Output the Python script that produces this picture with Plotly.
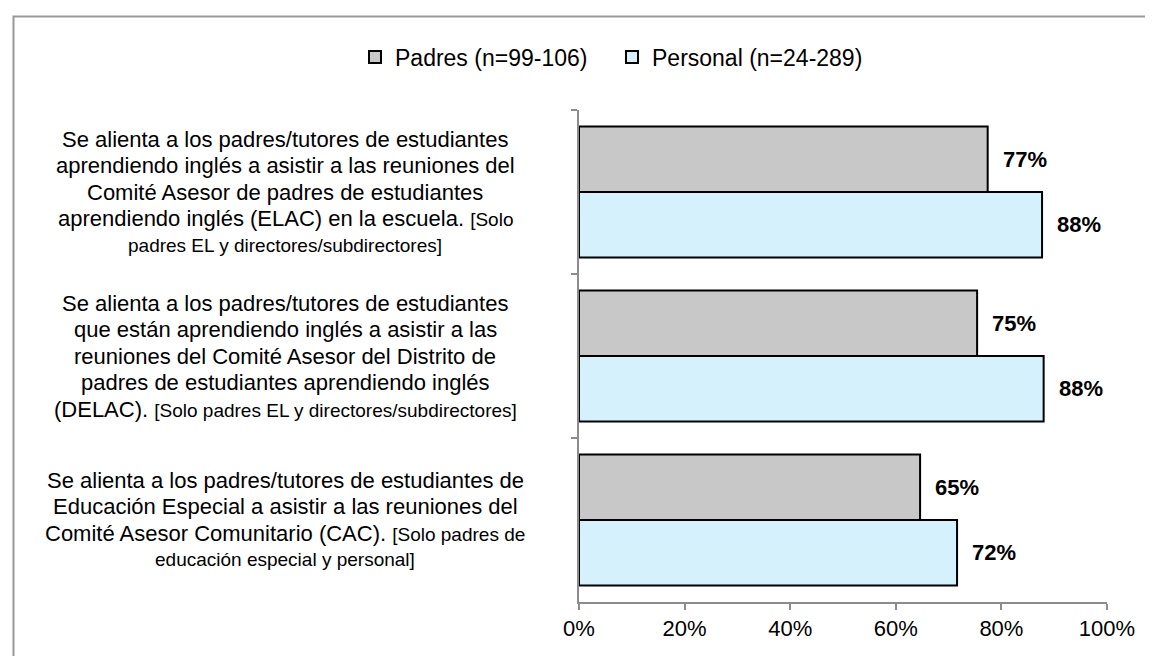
import plotly.graph_objects as go

categories = ["ELAC", "DELAC", "CAC"]
label_lines = [
    ["Se alienta a los padres/tutores de estudiantes",
     "aprendiendo inglés a asistir a las reuniones del",
     "Comité Asesor de padres de estudiantes",
     "aprendiendo inglés (ELAC) en la escuela. |[Solo",
     "|padres EL y directores/subdirectores]"],
    ["Se alienta a los padres/tutores de estudiantes",
     "que están aprendiendo inglés a asistir a las",
     "reuniones del Comité Asesor del Distrito de",
     "padres de estudiantes aprendiendo inglés",
     "(DELAC). |[Solo padres EL y directores/subdirectores]"],
    ["Se alienta a los padres/tutores de estudiantes de",
     "Educación Especial a asistir a las reuniones del",
     "Comité Asesor Comunitario (CAC). |[Solo padres de",
     "|educación especial y personal]"],
]
padres = [77.4, 75.4, 64.6]
personal = [87.7, 88.0, 71.6]
series_names = ["Padres (n=99-106)", "Personal (n=24-289)"]
x_ticks = [0, 20, 40, 60, 80, 100]
x_ticklabels = ["0%", "20%", "40%", "60%", "80%", "100%"]

FONT = "Liberation Sans, Arial, sans-serif"
LABEL = 22
SMALL = 19
TICK = 22
VALUE = 22
LEGEND = 23
LINE_GAP = 26.5

fig = go.Figure()
fig.add_trace(go.Bar(y=categories, x=padres, orientation="h", name=series_names[0],
                     marker=dict(color="#C8C8C8", line=dict(color="black", width=2))))
fig.add_trace(go.Bar(y=categories, x=personal, orientation="h", name=series_names[1],
                     marker=dict(color="#D5F2FC", line=dict(color="black", width=2))))

W, H = 1153, 656
ml, mr, mt, mb = 571, 54, 102, 62
pw = W - ml - mr
ph = H - mt - mb

def px_to_paper_x(px):
    return (px - ml) / pw

def px_to_paper_y(py):
    return (H - mb - py) / ph

annotations = []
# value labels
for vals, off in ((padres, -0.2), (personal, 0.2)):
    for i, v in enumerate(vals):
        annotations.append(dict(x=v, y=i + off, xref="x", yref="y", text=f"<b>{round(v)}%</b>",
                                showarrow=False, xanchor="left", xshift=13,
                                font=dict(family=FONT, size=VALUE, color="black")))

# category labels, one annotation per line
for ci, lines in enumerate(label_lines):
    n = len(lines)
    for k, ln in enumerate(lines):
        if "|" in ln:
            a, b = ln.split("|")
            txt = a + f"<span style='font-size:{SMALL}px'>{b}</span>"
        else:
            txt = ln
        annotations.append(dict(x=px_to_paper_x(277), y=ci, xref="paper", yref="y",
                                text=txt, showarrow=False, xanchor="center", yanchor="middle",
                                yshift=-(k - (n - 1) / 2) * LINE_GAP,
                                font=dict(family=FONT, size=LABEL, color="black")))

fig.update_layout(
    width=W, height=H,
    margin=dict(l=ml, r=mr, t=mt, b=mb, autoexpand=False),
    paper_bgcolor="white", plot_bgcolor="white",
    barmode="group", bargap=0.2, bargroupgap=0,
    font=dict(family=FONT, size=TICK, color="black"),
    showlegend=True,
    legend=dict(orientation="h", x=px_to_paper_x(604), xanchor="center",
                y=px_to_paper_y(49), yanchor="middle", font=dict(size=LEGEND),
                traceorder="normal", itemwidth=30, entrywidth=212, entrywidthmode="pixels"),
    xaxis=dict(range=[0, 100], tickvals=x_ticks, ticktext=x_ticklabels,
               showgrid=False, zeroline=False, showline=True, linecolor="#8C8C8C", linewidth=2,
               ticks="outside", ticklen=6, tickcolor="#8C8C8C", tickwidth=2,
               tickfont=dict(size=TICK), fixedrange=True),
    yaxis=dict(autorange="reversed", showticklabels=False, tickson="boundaries",
               showgrid=False, zeroline=False, showline=True, linecolor="#8C8C8C", linewidth=2,
               ticks="outside", ticklen=6, tickcolor="#8C8C8C", tickwidth=2),
    annotations=annotations,
    shapes=[dict(type="rect", xref="paper", yref="paper",
                 x0=px_to_paper_x(5.5), x1=px_to_paper_x(1200),
                 y0=px_to_paper_y(700), y1=px_to_paper_y(8.5),
                 line=dict(color="#999999", width=2), fillcolor="rgba(0,0,0,0)", layer="below")],
)

fig.write_html("out.html")
